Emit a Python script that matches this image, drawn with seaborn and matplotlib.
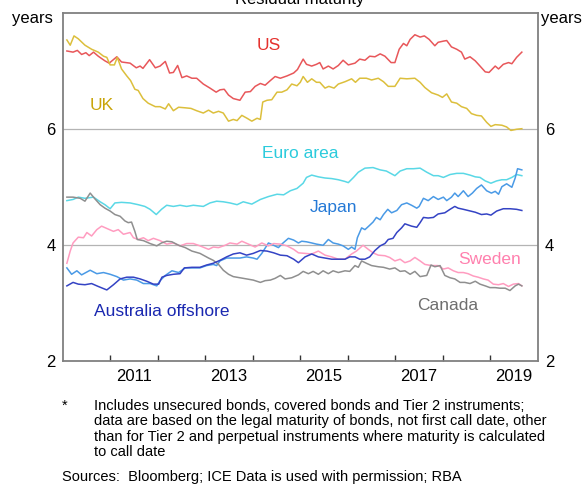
import pandas as pd
import matplotlib
matplotlib.use('Agg')
import matplotlib.pyplot as plt
import seaborn as sns

# (years, residual maturity in years)
us_x = [2010.09, 2010.22, 2010.31, 2010.40, 2010.49, 2010.56, 2010.65, 2010.75, 2010.89, 2010.98,
        2011.14, 2011.24, 2011.42, 2011.55, 2011.63, 2011.69, 2011.83, 2011.95, 2012.05, 2012.16,
        2012.25, 2012.33, 2012.42, 2012.51, 2012.61, 2012.72, 2012.82, 2012.96, 2013.10, 2013.23,
        2013.31, 2013.40, 2013.49, 2013.59, 2013.73, 2013.84, 2013.95, 2014.05, 2014.16, 2014.26,
        2014.37, 2014.47, 2014.58, 2014.72, 2014.86, 2014.94, 2015.06, 2015.13, 2015.24, 2015.34,
        2015.41, 2015.48, 2015.59, 2015.69, 2015.80, 2015.90, 2016.01, 2016.15, 2016.25, 2016.36,
        2016.46, 2016.57, 2016.68, 2016.78, 2016.91, 2016.99, 2017.08, 2017.17, 2017.24, 2017.31,
        2017.41, 2017.52, 2017.61, 2017.71, 2017.83, 2017.90, 2018.01, 2018.08, 2018.18, 2018.29,
        2018.39, 2018.46, 2018.57, 2018.68, 2018.78, 2018.89, 2018.97, 2019.10, 2019.17, 2019.27,
        2019.38, 2019.45, 2019.55, 2019.66]
us_y = [7.34, 7.32, 7.35, 7.28, 7.31, 7.26, 7.32, 7.25, 7.17, 7.13,
        7.24, 7.15, 7.13, 7.05, 7.08, 7.04, 7.19, 7.05, 7.08, 7.16,
        6.96, 6.97, 7.09, 6.88, 6.91, 6.87, 6.87, 6.77, 6.70, 6.63,
        6.67, 6.68, 6.58, 6.52, 6.49, 6.63, 6.64, 6.73, 6.78, 6.75,
        6.83, 6.90, 6.87, 6.91, 6.96, 7.02, 7.20, 7.11, 7.08, 7.11,
        7.14, 7.03, 7.08, 7.03, 7.09, 7.18, 7.10, 7.13, 7.20, 7.18,
        7.25, 7.24, 7.29, 7.25, 7.14, 7.14, 7.37, 7.47, 7.43, 7.54,
        7.62, 7.58, 7.60, 7.54, 7.43, 7.49, 7.51, 7.52, 7.41, 7.37,
        7.32, 7.20, 7.24, 7.17, 7.08, 6.98, 6.97, 7.08, 7.03, 7.11,
        7.14, 7.12, 7.23, 7.32]

uk_x = [2010.09, 2010.16, 2010.24, 2010.33, 2010.47, 2010.61, 2010.75, 2010.86, 2010.93, 2011.00,
        2011.09, 2011.15, 2011.24, 2011.35, 2011.43, 2011.52, 2011.59, 2011.69, 2011.80, 2011.95,
        2012.05, 2012.16, 2012.23, 2012.33, 2012.44, 2012.58, 2012.70, 2012.82, 2012.96, 2013.07,
        2013.17, 2013.28, 2013.38, 2013.49, 2013.59, 2013.67, 2013.77, 2013.88, 2013.98, 2014.09,
        2014.16, 2014.21, 2014.30, 2014.40, 2014.51, 2014.61, 2014.72, 2014.82, 2014.93, 2015.00,
        2015.06, 2015.15, 2015.24, 2015.34, 2015.41, 2015.52, 2015.60, 2015.71, 2015.80, 2015.94,
        2016.08, 2016.16, 2016.25, 2016.39, 2016.50, 2016.64, 2016.75, 2016.85, 2016.99, 2017.10,
        2017.24, 2017.41, 2017.52, 2017.62, 2017.76, 2017.90, 2017.99, 2018.08, 2018.18, 2018.29,
        2018.39, 2018.50, 2018.60, 2018.71, 2018.81, 2018.92, 2019.01, 2019.10, 2019.24, 2019.34,
        2019.43, 2019.55, 2019.66]
uk_y = [7.53, 7.44, 7.60, 7.55, 7.44, 7.37, 7.32, 7.25, 7.23, 7.10,
        7.10, 7.23, 7.03, 6.91, 6.83, 6.68, 6.66, 6.52, 6.44, 6.38,
        6.38, 6.34, 6.43, 6.31, 6.37, 6.36, 6.35, 6.31, 6.27, 6.32,
        6.27, 6.30, 6.27, 6.13, 6.16, 6.14, 6.23, 6.18, 6.13, 6.18,
        6.16, 6.46, 6.49, 6.50, 6.63, 6.63, 6.67, 6.77, 6.74, 6.80,
        6.90, 6.80, 6.86, 6.80, 6.80, 6.70, 6.73, 6.70, 6.77, 6.81,
        6.86, 6.80, 6.87, 6.87, 6.84, 6.87, 6.81, 6.73, 6.73, 6.87,
        6.86, 6.87, 6.80, 6.71, 6.62, 6.58, 6.54, 6.60, 6.46, 6.44,
        6.38, 6.35, 6.26, 6.23, 6.22, 6.11, 6.04, 6.07, 6.06, 6.03,
        5.97, 5.99, 6.00]

euro_x = [2010.09, 2010.22, 2010.33, 2010.47, 2010.65, 2010.79, 2010.89, 2011.00, 2011.10, 2011.24,
          2011.42, 2011.59, 2011.73, 2011.84, 2011.97, 2012.08, 2012.19, 2012.33, 2012.47, 2012.61,
          2012.75, 2012.96, 2013.10, 2013.24, 2013.38, 2013.52, 2013.67, 2013.80, 2013.98, 2014.16,
          2014.33, 2014.51, 2014.65, 2014.79, 2014.93, 2015.06, 2015.13, 2015.24, 2015.38, 2015.52,
          2015.66, 2015.80, 2015.94, 2016.01, 2016.12, 2016.22, 2016.36, 2016.53, 2016.68, 2016.81,
          2016.99, 2017.10, 2017.24, 2017.38, 2017.52, 2017.66, 2017.80, 2017.90, 2018.01, 2018.15,
          2018.29, 2018.43, 2018.57, 2018.68, 2018.78, 2018.89, 2019.01, 2019.13, 2019.24, 2019.34,
          2019.45, 2019.55, 2019.66]
euro_y = [4.76, 4.78, 4.82, 4.80, 4.82, 4.74, 4.69, 4.62, 4.72, 4.73,
          4.72, 4.69, 4.66, 4.61, 4.52, 4.61, 4.68, 4.66, 4.68, 4.66,
          4.68, 4.66, 4.72, 4.75, 4.74, 4.72, 4.69, 4.74, 4.70, 4.78,
          4.83, 4.87, 4.86, 4.93, 4.97, 5.06, 5.16, 5.20, 5.17, 5.15,
          5.14, 5.12, 5.09, 5.07, 5.16, 5.25, 5.32, 5.33, 5.29, 5.27,
          5.19, 5.27, 5.31, 5.31, 5.32, 5.25, 5.19, 5.19, 5.16, 5.21,
          5.23, 5.23, 5.20, 5.17, 5.16, 5.10, 5.06, 5.10, 5.12, 5.12,
          5.16, 5.21, 5.19]

japan_x = [2010.09, 2010.19, 2010.30, 2010.40, 2010.58, 2010.72, 2010.86, 2011.00, 2011.14, 2011.28,
           2011.42, 2011.56, 2011.70, 2011.84, 2011.98, 2012.05, 2012.16, 2012.30, 2012.44, 2012.58,
           2012.72, 2012.89, 2013.03, 2013.17, 2013.24, 2013.31, 2013.45, 2013.59, 2013.73, 2013.87,
           2014.01, 2014.09, 2014.19, 2014.33, 2014.44, 2014.54, 2014.61, 2014.75, 2014.86, 2014.96,
           2015.03, 2015.13, 2015.24, 2015.34, 2015.48, 2015.59, 2015.69, 2015.80, 2015.90, 2016.01,
           2016.08, 2016.15, 2016.20, 2016.29, 2016.36, 2016.44, 2016.53, 2016.60, 2016.68, 2016.75,
           2016.84, 2016.92, 2017.03, 2017.13, 2017.24, 2017.34, 2017.45, 2017.50, 2017.59, 2017.69,
           2017.80, 2017.90, 2018.01, 2018.08, 2018.18, 2018.25, 2018.32, 2018.43, 2018.53, 2018.62,
           2018.71, 2018.81, 2018.92, 2019.02, 2019.10, 2019.17, 2019.24, 2019.34, 2019.45, 2019.52,
           2019.57, 2019.66]
japan_y = [3.60, 3.49, 3.55, 3.48, 3.56, 3.50, 3.52, 3.49, 3.45, 3.39,
           3.41, 3.39, 3.33, 3.33, 3.29, 3.38, 3.47, 3.55, 3.52, 3.60,
           3.60, 3.60, 3.64, 3.66, 3.64, 3.72, 3.77, 3.77, 3.77, 3.79,
           3.77, 3.75, 3.85, 4.03, 3.99, 3.95, 4.01, 4.11, 4.08, 4.03,
           4.06, 4.05, 4.03, 4.01, 3.99, 4.09, 4.03, 4.01, 3.98, 3.92,
           3.96, 3.92, 4.12, 4.29, 4.26, 4.32, 4.39, 4.47, 4.43, 4.52,
           4.61, 4.55, 4.59, 4.69, 4.72, 4.68, 4.63, 4.66, 4.80, 4.76,
           4.83, 4.78, 4.82, 4.76, 4.82, 4.89, 4.83, 4.93, 4.83, 4.89,
           4.97, 5.03, 4.93, 4.89, 4.92, 4.87, 5.00, 5.05, 4.99, 5.15,
           5.31, 5.29]

aus_x = [2010.09, 2010.22, 2010.33, 2010.47, 2010.61, 2010.75, 2010.93, 2011.07, 2011.21, 2011.35,
         2011.49, 2011.63, 2011.77, 2011.91, 2012.02, 2012.09, 2012.19, 2012.33, 2012.47, 2012.56,
         2012.72, 2012.89, 2013.03, 2013.17, 2013.31, 2013.45, 2013.59, 2013.73, 2013.87, 2014.01,
         2014.16, 2014.30, 2014.44, 2014.58, 2014.72, 2014.86, 2014.96, 2015.10, 2015.24, 2015.38,
         2015.52, 2015.66, 2015.80, 2015.94, 2016.04, 2016.15, 2016.25, 2016.36, 2016.46, 2016.57,
         2016.68, 2016.78, 2016.85, 2016.95, 2017.03, 2017.13, 2017.20, 2017.27, 2017.34, 2017.45,
         2017.52, 2017.59, 2017.69, 2017.80, 2017.90, 2018.04, 2018.15, 2018.25, 2018.32, 2018.43,
         2018.53, 2018.68, 2018.81, 2018.92, 2019.01, 2019.13, 2019.27, 2019.41, 2019.55, 2019.66]
aus_y = [3.29, 3.35, 3.32, 3.31, 3.33, 3.28, 3.22, 3.31, 3.41, 3.44,
         3.44, 3.41, 3.37, 3.32, 3.32, 3.44, 3.47, 3.49, 3.50, 3.60,
         3.61, 3.61, 3.65, 3.68, 3.73, 3.79, 3.84, 3.86, 3.82, 3.85,
         3.90, 3.89, 3.86, 3.82, 3.81, 3.75, 3.69, 3.79, 3.84, 3.79,
         3.77, 3.75, 3.75, 3.75, 3.79, 3.79, 3.75, 3.75, 3.79, 3.90,
         3.98, 4.02, 4.09, 4.11, 4.21, 4.29, 4.36, 4.34, 4.32, 4.30,
         4.38, 4.47, 4.46, 4.47, 4.53, 4.55, 4.61, 4.66, 4.63, 4.61,
         4.59, 4.56, 4.52, 4.53, 4.51, 4.58, 4.62, 4.62, 4.61, 4.59]

sweden_x = [2010.09, 2010.16, 2010.22, 2010.33, 2010.44, 2010.51, 2010.61, 2010.72, 2010.82, 2010.93,
            2011.07, 2011.17, 2011.28, 2011.42, 2011.49, 2011.59, 2011.70, 2011.80, 2011.91, 2012.05,
            2012.19, 2012.33, 2012.47, 2012.61, 2012.75, 2012.89, 2013.07, 2013.17, 2013.28, 2013.42,
            2013.52, 2013.67, 2013.77, 2013.91, 2014.05, 2014.19, 2014.33, 2014.44, 2014.58, 2014.72,
            2014.86, 2014.96, 2015.10, 2015.24, 2015.38, 2015.52, 2015.66, 2015.80, 2015.94, 2016.08,
            2016.18, 2016.32, 2016.43, 2016.53, 2016.64, 2016.78, 2016.88, 2016.99, 2017.10, 2017.20,
            2017.31, 2017.41, 2017.52, 2017.62, 2017.76, 2017.90, 2018.01, 2018.11, 2018.22, 2018.32,
            2018.43, 2018.53, 2018.64, 2018.74, 2018.85, 2018.95, 2019.06, 2019.17, 2019.27, 2019.38,
            2019.48, 2019.59, 2019.66]
sweden_y = [3.68, 3.89, 4.03, 4.13, 4.12, 4.21, 4.15, 4.26, 4.32, 4.28,
            4.23, 4.26, 4.18, 4.21, 4.12, 4.09, 4.12, 4.07, 4.11, 4.07,
            4.01, 4.03, 3.98, 4.02, 4.02, 3.98, 3.92, 3.96, 3.95, 3.99,
            4.03, 4.01, 4.06, 4.01, 3.96, 4.03, 3.98, 4.02, 4.01, 3.98,
            3.92, 3.86, 3.85, 3.84, 3.89, 3.82, 3.79, 3.75, 3.75, 3.84,
            3.89, 3.99, 3.92, 3.86, 3.82, 3.81, 3.78, 3.72, 3.75, 3.69,
            3.72, 3.78, 3.72, 3.66, 3.64, 3.64, 3.58, 3.60, 3.55, 3.52,
            3.52, 3.50, 3.46, 3.44, 3.41, 3.39, 3.32, 3.31, 3.33, 3.28,
            3.32, 3.33, 3.29]

canada_x = [2010.09, 2010.22, 2010.37, 2010.47, 2010.58, 2010.68, 2010.79, 2010.89, 2011.00, 2011.10,
            2011.21, 2011.31, 2011.38, 2011.45, 2011.52, 2011.57, 2011.70, 2011.84, 2011.98, 2012.08,
            2012.19, 2012.30, 2012.44, 2012.58, 2012.72, 2012.89, 2013.07, 2013.17, 2013.28, 2013.38,
            2013.49, 2013.59, 2013.73, 2013.87, 2014.01, 2014.16, 2014.26, 2014.37, 2014.47, 2014.58,
            2014.68, 2014.82, 2014.96, 2015.06, 2015.17, 2015.27, 2015.38, 2015.48, 2015.59, 2015.69,
            2015.80, 2015.94, 2016.04, 2016.15, 2016.22, 2016.29, 2016.39, 2016.50, 2016.64, 2016.75,
            2016.88, 2016.99, 2017.10, 2017.20, 2017.31, 2017.41, 2017.52, 2017.66, 2017.75, 2017.83,
            2017.94, 2018.04, 2018.15, 2018.25, 2018.36, 2018.46, 2018.57, 2018.68, 2018.78, 2018.89,
            2018.99, 2019.10, 2019.20, 2019.31, 2019.41, 2019.52, 2019.59, 2019.66]
canada_y = [4.82, 4.82, 4.80, 4.75, 4.89, 4.79, 4.69, 4.63, 4.58, 4.52,
            4.49, 4.41, 4.38, 4.39, 4.23, 4.09, 4.07, 4.02, 3.98, 4.03,
            4.06, 4.05, 3.99, 3.95, 3.89, 3.85, 3.77, 3.73, 3.66, 3.56,
            3.49, 3.45, 3.43, 3.41, 3.39, 3.35, 3.38, 3.39, 3.42, 3.47,
            3.41, 3.43, 3.48, 3.54, 3.50, 3.54, 3.49, 3.55, 3.50, 3.55,
            3.52, 3.55, 3.54, 3.64, 3.61, 3.72, 3.68, 3.64, 3.62, 3.61,
            3.58, 3.60, 3.54, 3.55, 3.49, 3.54, 3.45, 3.47, 3.65, 3.62,
            3.64, 3.47, 3.43, 3.41, 3.35, 3.35, 3.33, 3.37, 3.32, 3.29,
            3.26, 3.26, 3.25, 3.25, 3.21, 3.29, 3.32, 3.29]

series = [
    # x, y, line colour, label, label colour, label position
    (us_x, us_y, '#e8575a', 'US', '#e5312d', (2014.33, 7.44)),
    (uk_x, uk_y, '#dcbf3c', 'UK', '#c9a50a', (2010.83, 6.40)),
    (euro_x, euro_y, '#5ad8e6', 'Euro area', '#2bcbdc', (2014.99, 5.57)),
    (japan_x, japan_y, '#4a9ae6', 'Japan', '#2479d6', (2015.69, 4.64)),
    (sweden_x, sweden_y, '#ff9cc0', 'Sweden', '#ff80ae', (2018.98, 3.75)),
    (canada_x, canada_y, '#8f8f8f', 'Canada', '#6e6e6e', (2018.11, 2.95)),
    (aus_x, aus_y, '#3443c4', 'Australia offshore', '#1a28b0', (2012.09, 2.85)),
]


def main():
    plt.rcParams['font.family'] = ['Liberation Sans', 'DejaVu Sans']
    fig = plt.figure(figsize=(5.88, 4.84), dpi=100)
    ax = fig.add_axes([62.6 / 588, (484 - 360.7) / 484, (538 - 62.6) / 588, (360.7 - 12.7) / 484])

    for y in [4, 6]:
        ax.axhline(y, color='#b4b4b4', linewidth=0.9, zorder=0)

    for xs, ys, col, lab, lab_col, pos in series:
        df = pd.DataFrame({'year': xs, 'value': ys})
        sns.lineplot(data=df, x='year', y='value', color=col, linewidth=1.1,
                     estimator=None, sort=False, ax=ax)
        ax.text(pos[0], pos[1], lab, color=lab_col, fontsize=12.5, ha='center', va='center')

    ax.set(xlim=(2010, 2020), ylim=(2, 8), xlabel='', ylabel='')
    ax.set_xticks(range(2011, 2020))
    ax.set_xticklabels([])
    ax.set_xticks([2011.5, 2013.5, 2015.5, 2017.5, 2019.5], minor=True)
    ax.set_xticklabels(['2011', '2013', '2015', '2017', '2019'], minor=True)
    ax.tick_params(axis='x', which='major', direction='in', length=4, width=1, color='#333333')
    ax.tick_params(axis='x', which='minor', length=0, labelsize=12, pad=6)
    ax.set_yticks([2, 4, 6])
    ax.set_yticklabels(['2', '4', '6'])
    ax.tick_params(axis='y', length=0, labelsize=12, pad=5, labelleft=True, labelright=True)
    for s in ax.spines.values():
        s.set_color('#808080')
        s.set_linewidth(1.3)

    ax.text(-0.02, 0.983, 'years', transform=ax.transAxes, ha='right', va='center', fontsize=12)
    ax.text(1.006, 0.983, 'years', transform=ax.transAxes, ha='left', va='center', fontsize=12)

    fig.text(0.51, 480 / 484, 'Residual maturity', ha='center', va='baseline', fontsize=12)

    notes = ('Includes unsecured bonds, covered bonds and Tier 2 instruments;\n'
             'data are based on the legal maturity of bonds, not first call date, other\n'
             'than for Tier 2 and perpetual instruments where maturity is calculated\n'
             'to call date')
    fig.text(62 / 588, 1 - 399 / 484, '*', fontsize=10.5, va='top')
    fig.text(94 / 588, 1 - 399 / 484, notes, fontsize=10.5, va='top', linespacing=1.13)
    fig.text(62 / 588, 1 - 470 / 484, 'Sources:  Bloomberg; ICE Data is used with permission; RBA',
             fontsize=10.5, va='top')

    fig.savefig('out.png', dpi=100)


if __name__ == '__main__':
    main()
